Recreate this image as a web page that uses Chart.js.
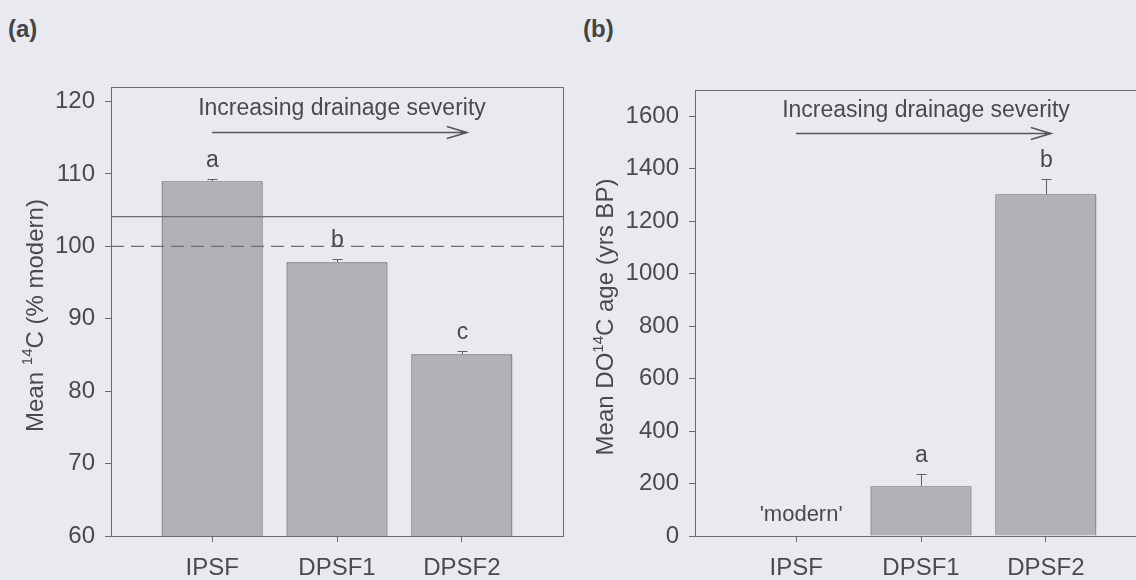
<!DOCTYPE html>
<html>
<head>
<meta charset="utf-8">
<script src="https://cdn.jsdelivr.net/npm/chart.js@4/dist/chart.umd.min.js"></script>
<style>
  html, body { margin: 0; padding: 0; }
  body { width: 1136px; height: 580px; overflow: hidden; background: #e8eaef; position: relative;
         font-family: "Liberation Sans", Arial, sans-serif; }
  .panel { position: absolute; top: 0; width: 580px; height: 580px; }
  .tag { position: absolute; top: 15px; font-weight: bold; font-size: 24px; color: #444; }
</style>
</head>
<body>
<div class="tag" style="left:8px">(a)</div>
<div class="tag" style="left:583px">(b)</div>
<div class="panel" style="left:0"><canvas id="chartA" width="580" height="580"></canvas></div>
<div class="panel" style="left:580px"><canvas id="chartB" width="580" height="580"></canvas></div>
<script>
// sites, ordered by drainage severity
const categories = ['IPSF', 'DPSF1', 'DPSF2'];

// (a) mean 14C, % modern, with +1 SE
const pctModern = [109.0, 97.8, 85.1];
const pctModernErr = [0.35, 0.5, 0.5];
const pctLetters = ['a', 'b', 'c'];
const pctTicks = [60, 70, 80, 90, 100, 110, 120];
const atmosLevel = 104.1;   // solid reference line
const modernLevel = 100;    // dashed 100 % modern line

// (b) mean DO14C age, yrs BP, with +1 SE (IPSF is 'modern', no bar)
const ageBP = [null, 190, 1303];
const ageErr = [null, 45, 57];
const ageLetters = ['', 'a', 'b'];
const ageTicks = [0, 200, 400, 600, 800, 1000, 1200, 1400, 1600];

const INK = '#4a4a4a';
const AXIS = '#6b6b6b';
const FONT = '"Liberation Sans", Arial, sans-serif';
const X_MIN = 0.19, X_MAX = 3.81;

// error caps, significance letters, arrow note and y title
function overlayPlugin(cfg) {
  return {
    id: 'overlay_' + cfg.id,
    afterDatasetsDraw(chart) {
      const ctx = chart.ctx;
      const xs = chart.scales.x, ys = chart.scales.y;
      const area = chart.chartArea;
      ctx.save();

      // frame on top and right
      ctx.strokeStyle = AXIS;
      ctx.lineWidth = 1;
      ctx.beginPath();
      ctx.moveTo(area.left, area.top + 0.5);
      ctx.lineTo(area.right + 0.5, area.top + 0.5);
      ctx.lineTo(area.right + 0.5, area.bottom);
      ctx.stroke();

      // upward error bars and letters
      cfg.values.forEach((v, i) => {
        if (v == null) return;
        const px = Math.round(xs.getPixelForValue(i + 1)) + 0.5;
        const yTop = ys.getPixelForValue(v);
        const yErr = Math.round(ys.getPixelForValue(v + cfg.errors[i])) + 0.5;
        ctx.strokeStyle = '#5e5e5e';
        ctx.lineWidth = 1;
        ctx.beginPath();
        ctx.moveTo(px, yTop);
        ctx.lineTo(px, yErr);
        ctx.moveTo(px - 5, yErr);
        ctx.lineTo(px + 5, yErr);
        ctx.stroke();
        if (cfg.letters[i]) {
          ctx.fillStyle = INK;
          ctx.font = '23px ' + FONT;
          ctx.textAlign = 'center';
          ctx.textBaseline = 'middle';
          ctx.fillText(cfg.letters[i], px, yErr - 19);
        }
      });

      // "Increasing drainage severity" with arrow
      const tx = xs.getPixelForValue(2.04);
      ctx.fillStyle = INK;
      ctx.font = '23px ' + FONT;
      ctx.textAlign = 'center';
      ctx.textBaseline = 'middle';
      ctx.fillText('Increasing drainage severity', tx, ys.getPixelForValue(cfg.noteY));
      const ay = Math.round(ys.getPixelForValue(cfg.arrowY)) + 0.5;
      const ax0 = xs.getPixelForValue(1.0), ax1 = xs.getPixelForValue(3.04);
      ctx.strokeStyle = '#555';
      ctx.lineWidth = 1.6;
      ctx.beginPath();
      ctx.moveTo(ax0, ay);
      ctx.lineTo(ax1, ay);
      ctx.moveTo(ax1 - 20, ay - 6);
      ctx.lineTo(ax1, ay);
      ctx.lineTo(ax1 - 20, ay + 6);
      ctx.stroke();

      if (cfg.extra) {
        ctx.fillStyle = INK;
        ctx.font = '22px ' + FONT;
        ctx.fillText(cfg.extra.text, xs.getPixelForValue(cfg.extra.x), ys.getPixelForValue(cfg.extra.y));
      }

      // rotated y title with a raised "14"
      ctx.font = '24px ' + FONT;
      const widest = Math.max(...ys.ticks.map(t => ctx.measureText(String(t.value)).width));
      const titleX = area.left - 6 - 10 - widest - 19;
      const titleY = (area.top + area.bottom) / 2 + 4;
      const parts = cfg.title;
      const widthOf = p => { ctx.font = (p.sup ? '15px ' : '24px ') + FONT; return ctx.measureText(p.t).width; };
      const total = parts.reduce((s, p) => s + widthOf(p), 0);
      ctx.translate(titleX, titleY);
      ctx.rotate(-Math.PI / 2);
      ctx.textAlign = 'left';
      ctx.textBaseline = 'middle';
      ctx.fillStyle = INK;
      let cx = -total / 2;
      parts.forEach(p => {
        const w = widthOf(p);
        ctx.fillText(p.t, cx, p.sup ? -8 : 0);
        cx += w;
      });
      ctx.restore();
    }
  };
}

function makePanel(canvasId, cfg) {
  const bars = cfg.values.map((v, i) => ({ x: i + 1, y: v }));
  const datasets = [{
    type: 'bar',
    data: bars,
    backgroundColor: '#b0b2b7',
    borderColor: '#666666',
    borderWidth: 1.2,
    barPercentage: 0.81,
    categoryPercentage: 1,
    order: 2
  }];
  (cfg.refLines || []).forEach(r => {
    datasets.push({
      type: 'line',
      data: [{ x: X_MIN, y: r.y }, { x: X_MAX, y: r.y }],
      borderColor: '#6e6e6e',
      borderWidth: 1.2,
      borderDash: r.dash || [],
      pointRadius: 0,
      order: 1
    });
  });

  return new Chart(document.getElementById(canvasId), {
    type: 'bar',
    data: { datasets },
    options: {
      responsive: false,
      animation: false,
      devicePixelRatio: 1,
      layout: { padding: { left: 0, right: cfg.padRight, top: cfg.padTop, bottom: 0 } },
      plugins: { legend: { display: false }, tooltip: { enabled: false } },
      scales: {
        x: {
          type: 'linear',
          min: X_MIN,
          max: X_MAX,
          offset: false,
          afterBuildTicks: s => { s.ticks = categories.map((c, i) => ({ value: i + 1 })); },
          afterFit: s => { s.height = 44; },
          ticks: {
            callback: v => categories[v - 1] || '',
            autoSkip: false,
            maxRotation: 0,
            padding: 12,
            color: INK,
            font: { family: FONT, size: 24 }
          },
          grid: { drawOnChartArea: false, offset: false, tickLength: 6, color: AXIS },
          border: { color: AXIS, width: 1 }
        },
        y: {
          min: cfg.yMin,
          max: cfg.yMax,
          afterBuildTicks: s => { s.ticks = cfg.ticks.map(v => ({ value: v })); },
          afterFit: s => { s.width = cfg.axisWidth; },
          ticks: {
            callback: v => String(v),
            padding: 10,
            color: INK,
            font: { family: FONT, size: 24 }
          },
          grid: { drawOnChartArea: false, tickLength: 6, color: AXIS },
          border: { color: AXIS, width: 1 }
        }
      }
    },
    plugins: [overlayPlugin(cfg)]
  });
}

makePanel('chartA', {
  id: 'a',
  values: pctModern,
  errors: pctModernErr,
  letters: pctLetters,
  ticks: pctTicks,
  yMin: 60,
  yMax: 122,
  axisWidth: 111,
  padTop: 87,
  padRight: 17,
  noteY: 119.0,
  arrowY: 115.8,
  refLines: [{ y: atmosLevel }, { y: modernLevel, dash: [13, 7] }],
  title: [{ t: 'Mean ' }, { t: '14', sup: true }, { t: 'C (% modern)' }]
});

makePanel('chartB', {
  id: 'b',
  values: ageBP,
  errors: ageErr,
  letters: ageLetters,
  ticks: ageTicks,
  yMin: 0,
  yMax: 1700,
  axisWidth: 115,
  padTop: 90,
  padRight: 13,
  noteY: 1620,
  arrowY: 1535,
  extra: { text: "'modern'", x: 1.04, y: 80 },
  title: [{ t: 'Mean DO' }, { t: '14', sup: true }, { t: 'C age (yrs BP)' }]
});
</script>
</body>
</html>
